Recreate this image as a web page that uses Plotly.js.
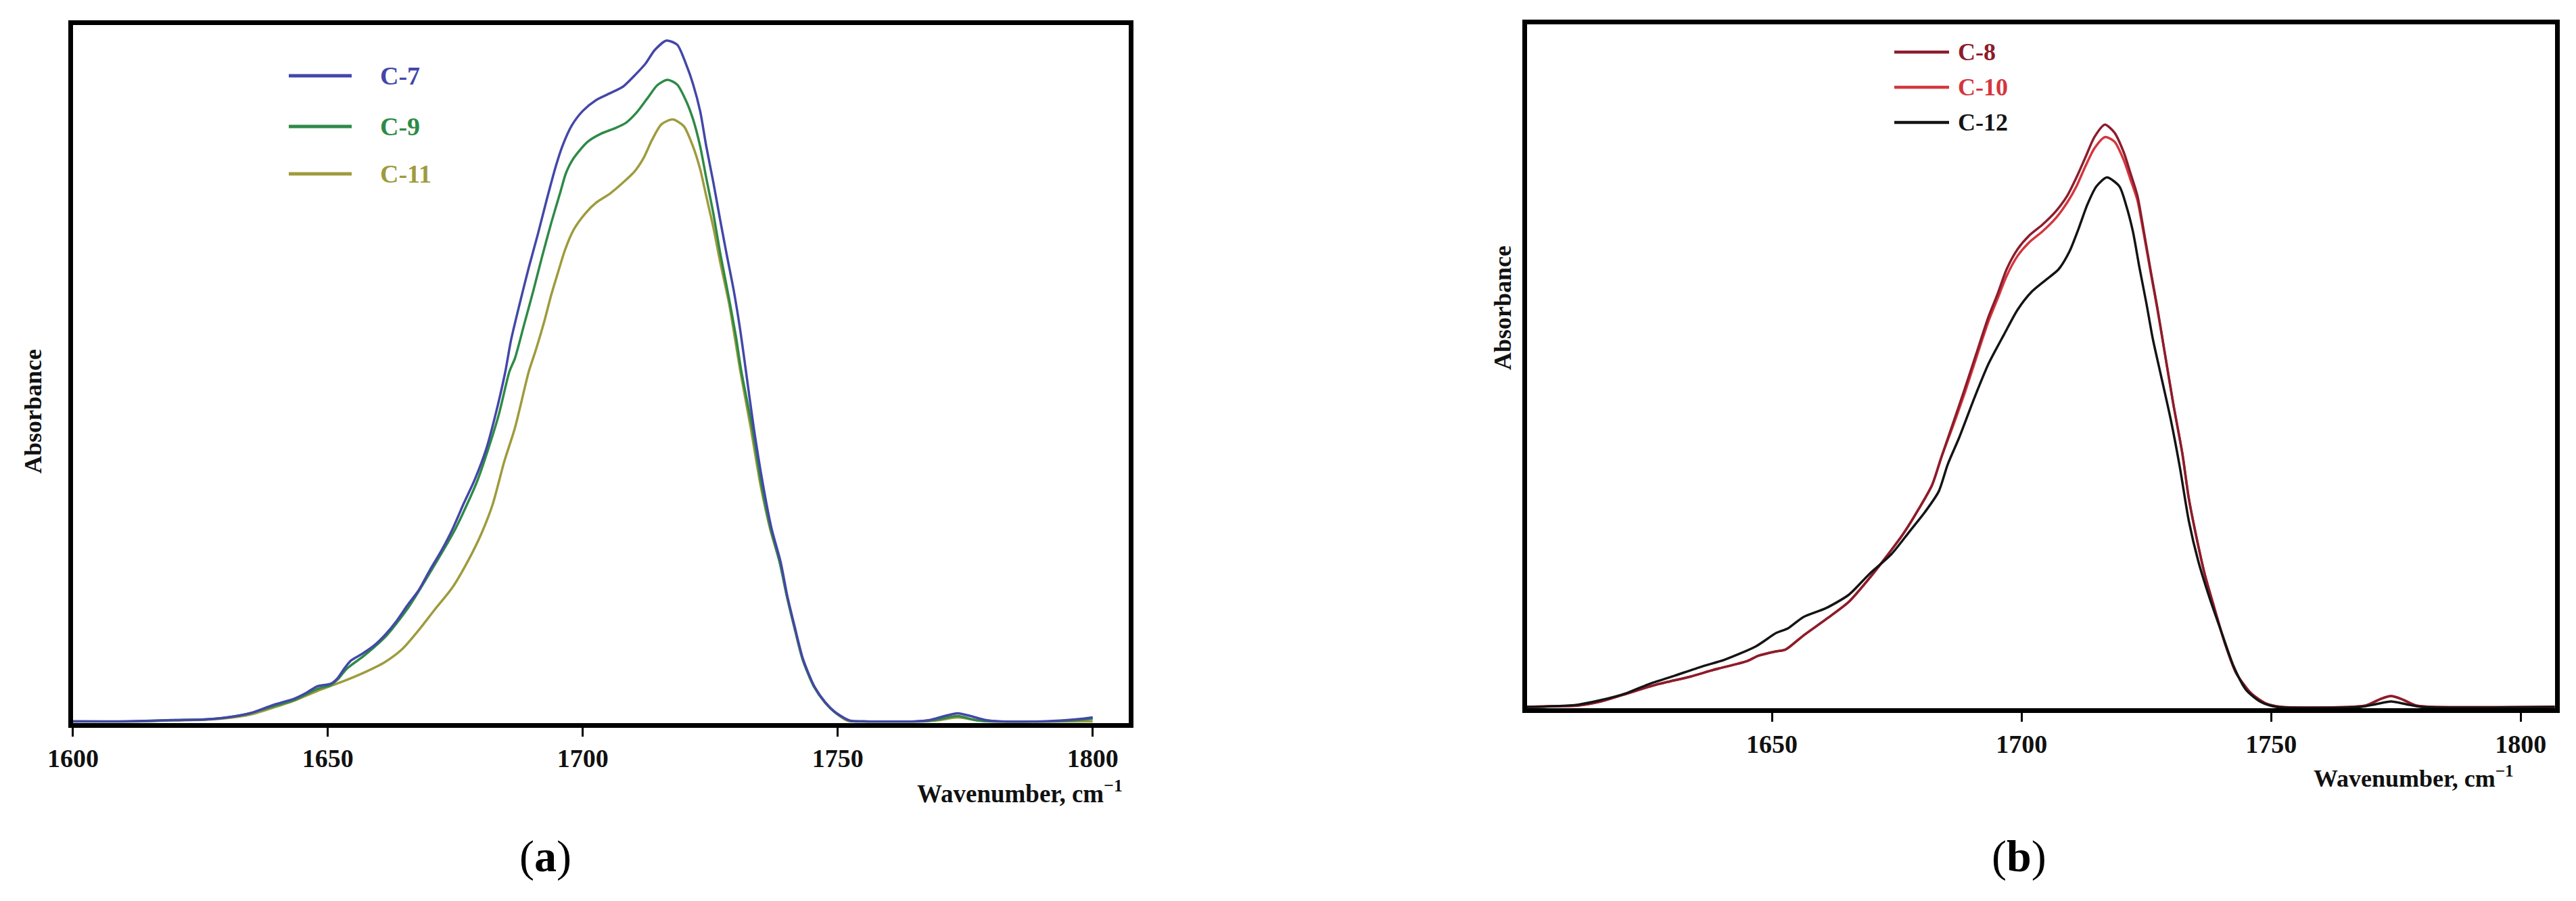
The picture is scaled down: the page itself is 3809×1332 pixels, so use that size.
<!DOCTYPE html>
<html>
<head>
<meta charset="utf-8">
<script src="https://cdn.plot.ly/plotly-3.0.1.min.js"></script>
<style>html,body{margin:0;padding:0;background:#fff;}#chart{width:3809px;height:1332px;}</style>
</head>
<body>
<div id="chart"></div>
<script>
// ---------- DATA (panel a) ----------
const wnC7 = [1600,1610,1615,1620,1625.9,1630.3,1634.7,1639.1,1643.5,1645.7,1647.9,1650.6,1651.9,1653.2,1654.5,1656.7,1659.0,1661.2,1663.4,1665.6,1667.8,1670.0,1672.2,1674.4,1676.6,1678.8,1681.0,1682.8,1684.8,1685.9,1687.6,1689.4,1691.2,1692.9,1694.7,1696.0,1697.8,1700.0,1702.6,1705.3,1707.9,1710.1,1712.3,1714.1,1716.4,1718.5,1720.3,1721.6,1723.0,1724.2,1725.6,1726.9,1728.2,1729.6,1730.9,1732.0,1733.5,1735.3,1737.0,1738.8,1740.1,1741.5,1743.2,1745.4,1747.6,1749.8,1752.5,1755,1765,1768,1771,1773.5,1776,1779,1782,1790,1795,1798,1800];
const absC7 = [0,0,0.0005,0.001,0.0015,0.003,0.006,0.012,0.017,0.021,0.026,0.028,0.032,0.039,0.045,0.050,0.056,0.064,0.074,0.086,0.097,0.112,0.126,0.142,0.161,0.179,0.201,0.226,0.259,0.282,0.309,0.336,0.361,0.386,0.411,0.426,0.441,0.452,0.460,0.465,0.470,0.478,0.487,0.497,0.504,0.501,0.486,0.472,0.452,0.426,0.399,0.372,0.346,0.319,0.289,0.259,0.218,0.176,0.143,0.118,0.093,0.071,0.046,0.026,0.014,0.006,0.0005,0,0,0.001,0.004,0.006,0.004,0.001,0,0,0.001,0.002,0.003];

const wnC9 = [1600,1612,1620,1626,1630.3,1634.7,1639.1,1643.5,1647.9,1650.6,1651.9,1653.7,1657.2,1661.6,1666.0,1670.4,1675.0,1679.4,1683.4,1685.6,1686.7,1688.5,1690.3,1692.0,1693.8,1695.6,1696.7,1698.2,1700.9,1703.5,1706.2,1708.4,1710.6,1712.8,1714.6,1716.6,1718.5,1720.3,1721.6,1723.0,1724.2,1725.6,1726.9,1728.7,1730.0,1731.1,1733.2,1735.0,1736.8,1738.6,1740.0,1741.4,1743.1,1745.3,1747.5,1749.7,1752.3,1755,1766,1769,1773.5,1777,1780,1792,1797,1800];
const absC9 = [0,0,0.001,0.0015,0.003,0.006,0.011,0.016,0.024,0.027,0.031,0.039,0.049,0.064,0.0855,0.1125,0.1425,0.179,0.2255,0.259,0.269,0.294,0.319,0.344,0.369,0.392,0.406,0.417,0.429,0.435,0.439,0.443,0.451,0.462,0.471,0.475,0.4715,0.459,0.446,0.426,0.4025,0.376,0.3475,0.3125,0.2855,0.259,0.218,0.176,0.143,0.118,0.093,0.071,0.046,0.026,0.014,0.006,0.0005,0,0,0.001,0.004,0.001,0,0,0.001,0.002];

const wnC11 = [1600,1612,1620,1626,1630.3,1634.7,1639.1,1643.5,1647.9,1653.2,1656.7,1661.2,1664.7,1667.8,1670.9,1674.4,1677.5,1680.1,1682.3,1684.6,1686.7,1689.4,1690.7,1692.5,1693.8,1695.1,1696.5,1698.2,1700.4,1702.6,1705.3,1707.9,1710.1,1711.9,1713.6,1715.4,1717.6,1719.8,1721.6,1723.0,1724.2,1725.6,1726.9,1728.7,1730.9,1732.9,1734.8,1736.7,1738.6,1740.0,1741.4,1743.1,1745.3,1747.5,1749.7,1752,1755,1767,1770,1773.5,1777,1780,1800];
const absC11 = [0,0,0.0008,0.0012,0.0025,0.005,0.010,0.0155,0.0225,0.030,0.0355,0.044,0.054,0.0675,0.0825,0.099,0.119,0.139,0.1605,0.1925,0.2175,0.259,0.274,0.297,0.3157,0.332,0.349,0.364,0.3757,0.384,0.3907,0.399,0.407,0.417,0.4307,0.442,0.4457,0.4407,0.4257,0.409,0.389,0.3657,0.3407,0.309,0.259,0.218,0.176,0.143,0.118,0.093,0.071,0.046,0.026,0.014,0.006,0.0005,0,0,0.001,0.003,0.001,0,0];

// ---------- DATA (panel b) ----------
const wnC8 = [1600,1606,1611.2,1615.7,1620.2,1627.0,1633.7,1638.3,1645.0,1647.3,1650.5,1652.7,1656.3,1660.8,1665.4,1669.4,1673.0,1676.2,1679.4,1682.1,1683.9,1686.3,1688.6,1690.9,1693.4,1695.2,1697.0,1699.2,1701.5,1704.2,1706.9,1709.2,1711.0,1712.8,1714.6,1716.7,1718.6,1720.5,1721.8,1723.2,1724.5,1725.9,1727.2,1728.6,1730.4,1732.2,1733.5,1734.9,1736.7,1738.5,1740.8,1743,1746,1749,1752,1766,1769,1772,1774,1776,1779,1782,1807];
const absC8 = [0,0.0005,0.001,0.004,0.009,0.0167,0.0225,0.0275,0.034,0.038,0.041,0.0425,0.053,0.065,0.078,0.095,0.112,0.128,0.147,0.165,0.185,0.211,0.236,0.262,0.290,0.3067,0.325,0.340,0.350,0.3583,0.3683,0.380,0.3933,0.4083,0.4233,0.4325,0.4267,0.4117,0.3967,0.380,0.3533,0.3233,0.2967,0.265,0.225,0.1885,0.155,0.1285,0.0985,0.075,0.0465,0.025,0.010,0.0025,0,0,0.001,0.006,0.008,0.006,0.001,0,0];
const wnC10 = wnC8.slice();
const absC10 = [0,0.0005,0.001,0.004,0.009,0.0167,0.0225,0.0275,0.034,0.038,0.041,0.0425,0.053,0.065,0.078,0.095,0.112,0.128,0.147,0.165,0.185,0.209,0.233,0.259,0.2867,0.3033,0.320,0.335,0.345,0.3533,0.3633,0.375,0.3867,0.4017,0.415,0.4233,0.420,0.406,0.392,0.3765,0.351,0.322,0.2955,0.265,0.225,0.1885,0.155,0.1285,0.0985,0.075,0.0465,0.025,0.010,0.0025,0,0,0.001,0.006,0.008,0.006,0.001,0,0];
const wnC12 = [1600,1606.6,1611.2,1615.7,1620.7,1625.2,1630.6,1636.0,1640.5,1646.8,1650.9,1653.2,1656.3,1660.8,1665.4,1669.4,1673.9,1677.5,1680.7,1683.4,1685.2,1687.5,1690.6,1693.4,1696.5,1699.2,1702.0,1704.7,1707.4,1709.6,1711.4,1713.2,1715.0,1717.1,1719.6,1720.9,1722.3,1723.6,1725.0,1726.3,1727.7,1729.9,1731.7,1733.5,1735.4,1737.6,1740.1,1742.5,1745,1748,1751,1768,1771,1774,1777,1780,1807];
const absC12 = [0,0.0005,0.0017,0.005,0.010,0.0167,0.0233,0.030,0.035,0.045,0.055,0.0583,0.0667,0.0733,0.0833,0.0983,0.1133,0.130,0.145,0.160,0.180,0.200,0.230,0.255,0.2767,0.295,0.3083,0.3167,0.325,0.3383,0.355,0.3733,0.3867,0.3933,0.3867,0.3733,0.3533,0.3267,0.300,0.2733,0.250,0.2133,0.1783,0.1383,0.1083,0.0817,0.055,0.030,0.0125,0.0035,0,0,0.002,0.004,0.002,0,0];

const seriesNamesA = ['C-7','C-9','C-11'];
const seriesNamesB = ['C-8','C-10','C-12'];
const tickValsA = [1600,1650,1700,1750,1800];
const tickValsB = [1650,1700,1750,1800];
const xTitle = 'Wavenumber, cm<sup>−1</sup>';
const yTitle = 'Absorbance';
const panelLabels = ['(<b>a</b>)','(<b>b</b>)'];

// ---------- STYLE ----------
const W = 3809, H = 1332;
const FONT = 'Liberation Serif, Times New Roman, serif';
const colA = ['#4347a8','#2e8a47','#9e9b3d'];
const colB = ['#8b1d2c','#d4363d','#141414'];
const px = x => x / W;
const py = y => 1 - y / H;

const trace = (x, y, color, xa, ya, name) => ({
  type: 'scatter', mode: 'lines', x: x, y: y, name: name,
  xaxis: xa, yaxis: ya,
  line: {color: color, width: 3.5, shape: 'spline', smoothing: 0.7},
  hoverinfo: 'skip'
});

const data = [
  trace(wnC11, absC11, colA[2], 'x', 'y', seriesNamesA[2]),
  trace(wnC9, absC9, colA[1], 'x', 'y', seriesNamesA[1]),
  trace(wnC7, absC7, colA[0], 'x', 'y', seriesNamesA[0]),
  trace(wnC10, absC10, colB[1], 'x2', 'y2', seriesNamesB[1]),
  trace(wnC8, absC8, colB[0], 'x2', 'y2', seriesNamesB[0]),
  trace(wnC12, absC12, colB[2], 'x2', 'y2', seriesNamesB[2])
];

const xCommon = {
  showline: true, mirror: true, linewidth: 7, linecolor: '#000',
  showgrid: false, zeroline: false,
  ticks: 'outside', ticklen: 13, tickwidth: 3, tickcolor: '#000',
  tickfont: {family: FONT, size: 38, color: '#111', weight: 'bold'},
  tickmode: 'array'
};
const yCommon = {
  showline: true, mirror: true, linewidth: 7, linecolor: '#000',
  showgrid: false, zeroline: false, ticks: '', showticklabels: false
};

const layout = {
  width: W, height: H,
  margin: {l: 0, r: 0, t: 0, b: 0, pad: 0},
  paper_bgcolor: '#fff', plot_bgcolor: '#fff',
  showlegend: false,
  xaxis: Object.assign({}, xCommon, {domain: [px(107.5), px(1668.5)], range: [1599.95, 1807.0], tickvals: tickValsA, anchor: 'y'}),
  yaxis: Object.assign({}, yCommon, {domain: [py(1068.5), py(36.5)], range: [-0.001, 0.5158], anchor: 'x'}),
  xaxis2: Object.assign({}, xCommon, {domain: [px(2257.5), px(3777.5)], range: [1600.88, 1806.8], tickvals: tickValsB, anchor: 'y2'}),
  yaxis2: Object.assign({}, yCommon, {domain: [py(1047), py(35.5)], range: [-0.001, 0.5073], anchor: 'x2'}),
  shapes: [],
  annotations: []
};

const ann = (text, x, y, opts) => Object.assign({
  text: text, x: px(x), y: py(y), xref: 'paper', yref: 'paper',
  showarrow: false, xanchor: 'center', yanchor: 'middle',
  font: {family: FONT, size: 36, color: '#111', weight: 'bold'}
}, opts || {});

// axis titles
layout.annotations.push(ann(xTitle, 1662, 1170, {xanchor: 'right', font: {family: FONT, size: 37, color: '#111', weight: 'bold'}}));
layout.annotations.push(ann(xTitle, 3719, 1148, {xanchor: 'right'}));
layout.annotations.push(ann(yTitle, 49, 608, {textangle: -90}));
layout.annotations.push(ann(yTitle, 2222, 455, {textangle: -90}));
// panel labels
layout.annotations.push(ann(panelLabels[0], 806, 1266, {font: {family: FONT, size: 66, color: '#000'}}));
layout.annotations.push(ann(panelLabels[1], 2985, 1266, {font: {family: FONT, size: 66, color: '#000'}}));

// legends (decorative keys)
const legA = [112, 187, 257];
seriesNamesA.forEach((n, i) => {
  layout.shapes.push({type: 'line', xref: 'paper', yref: 'paper', x0: px(427), x1: px(520), y0: py(legA[i]), y1: py(legA[i]), line: {color: colA[i], width: 5}});
  layout.annotations.push(ann(n, 560, legA[i], {xanchor: 'left', font: {family: FONT, size: 38, color: colA[i], weight: 'bold'}}));
});
const legB = [77, 129, 181];
seriesNamesB.forEach((n, i) => {
  layout.shapes.push({type: 'line', xref: 'paper', yref: 'paper', x0: px(2801), x1: px(2882), y0: py(legB[i]), y1: py(legB[i]), line: {color: colB[i], width: 4.5}});
  layout.annotations.push(ann(n, 2893, legB[i], {xanchor: 'left', font: {family: FONT, size: 36, color: colB[i], weight: 'bold'}}));
});

Plotly.newPlot('chart', data, layout, {staticPlot: true, displayModeBar: false});
</script>
</body>
</html>
